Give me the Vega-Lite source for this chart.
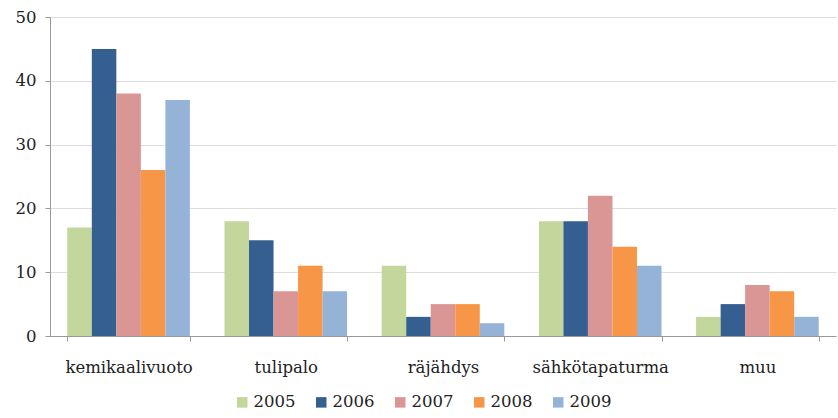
{
  "$schema": "https://vega.github.io/schema/vega-lite/v6.json",
  "width": 786,
  "height": 319,
  "autosize": {"type": "none"},
  "padding": {"left": 50, "top": 17, "right": 2, "bottom": 82},
  "background": "white",
  "data": {
    "values": [
      {"cat": "kemikaalivuoto", "year": "2005", "v": 17},
      {"cat": "kemikaalivuoto", "year": "2006", "v": 45},
      {"cat": "kemikaalivuoto", "year": "2007", "v": 38},
      {"cat": "kemikaalivuoto", "year": "2008", "v": 26},
      {"cat": "kemikaalivuoto", "year": "2009", "v": 37},
      {"cat": "tulipalo", "year": "2005", "v": 18},
      {"cat": "tulipalo", "year": "2006", "v": 15},
      {"cat": "tulipalo", "year": "2007", "v": 7},
      {"cat": "tulipalo", "year": "2008", "v": 11},
      {"cat": "tulipalo", "year": "2009", "v": 7},
      {"cat": "räjähdys", "year": "2005", "v": 11},
      {"cat": "räjähdys", "year": "2006", "v": 3},
      {"cat": "räjähdys", "year": "2007", "v": 5},
      {"cat": "räjähdys", "year": "2008", "v": 5},
      {"cat": "räjähdys", "year": "2009", "v": 2},
      {"cat": "sähkötapaturma", "year": "2005", "v": 18},
      {"cat": "sähkötapaturma", "year": "2006", "v": 18},
      {"cat": "sähkötapaturma", "year": "2007", "v": 22},
      {"cat": "sähkötapaturma", "year": "2008", "v": 14},
      {"cat": "sähkötapaturma", "year": "2009", "v": 11},
      {"cat": "muu", "year": "2005", "v": 3},
      {"cat": "muu", "year": "2006", "v": 5},
      {"cat": "muu", "year": "2007", "v": 8},
      {"cat": "muu", "year": "2008", "v": 7},
      {"cat": "muu", "year": "2009", "v": 3}
    ]
  },
  "mark": {"type": "bar"},
  "encoding": {
    "x": {
      "field": "cat",
      "type": "nominal",
      "sort": null,
      "scale": {"paddingInner": 0.22, "paddingOuter": 0.11},
      "axis": {
        "title": null,
        "labelAngle": 0,
        "labelFont": "DejaVu Serif",
        "labelFontSize": 16.5,
        "labelColor": "#222222",
        "labelPadding": 18,
        "tickBand": "extent",
        "tickSize": 5,
        "tickColor": "#999999",
        "domainColor": "#999999",
        "grid": false
      }
    },
    "xOffset": {"field": "year", "type": "nominal", "scale": {"paddingInner": 0, "paddingOuter": 0}},
    "y": {
      "field": "v",
      "type": "quantitative",
      "scale": {"domain": [0, 50]},
      "axis": {
        "title": null,
        "values": [0, 10, 20, 30, 40, 50],
        "labelFont": "DejaVu Serif",
        "labelFontSize": 16.5,
        "labelColor": "#222222",
        "labelPadding": 9,
        "tickSize": 5,
        "tickColor": "#999999",
        "domainColor": "#999999",
        "gridColor": "#dddddd"
      }
    },
    "color": {
      "field": "year",
      "type": "nominal",
      "scale": {
        "domain": ["2005", "2006", "2007", "2008", "2009"],
        "range": ["#c3d69b", "#355f91", "#d99694", "#f79646", "#95b3d7"]
      },
      "legend": {
        "title": null,
        "orient": "none",
        "direction": "horizontal",
        "legendX": 184,
        "legendY": 377,
        "symbolType": "square",
        "symbolSize": 110,
        "symbolStrokeWidth": 0,
        "labelFont": "DejaVu Serif",
        "labelFontSize": 16.5,
        "labelColor": "#222222",
        "labelOffset": 3,
        "columnPadding": 17
      }
    }
  },
  "config": {"view": {"stroke": null}}
}
